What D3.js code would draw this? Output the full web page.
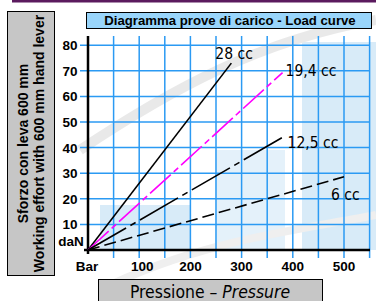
<!DOCTYPE html>
<html>
<head>
<meta charset="utf-8">
<script src="https://cdn.jsdelivr.net/npm/d3@7"></script>
<style>
  body { margin: 0; background: #fff; }
  svg { display: block; }
</style>
</head>
<body>
<div id="chart"></div>
<script>
// Data
const seriesNames = ["28 cc", "19,4 cc", "12,5 cc", "6 cc"];
const endPressure = [280, 380, 380, 500];   // bar
const endEffort = [73, 69.3, 44, 28.6];      // daN
const xTicks = [100, 200, 300, 400, 500];
const yTicks = [10, 20, 30, 40, 50, 60, 70, 80];

const lineStyles = [
    { color: "#000", dash: null },
    { color: "#ff00ff", dash: "28,4,6,4" },
    { color: "#000", dash: "44,5,6,5" },
    { color: "#000", dash: "12,5" }
];

const svg = d3.select("#chart").append("svg").attr("width", 376).attr("height", 301);

const x = d3.scaleLinear().domain([0, 550]).range([88, 369.6]);
const y = d3.scaleLinear().domain([0, 80]).range([250, 45.2]);

// top rule
svg.append("rect").attr("x", 12).attr("y", 0).attr("width", 364).attr("height", 2.5).attr("fill", "#5b1a5e");

// faint watermark behind the grid
const wm = svg.append("g").attr("opacity", 0.55);
wm.append("rect").attr("x", 302).attr("y", 42).attr("width", 74).attr("height", 208).attr("fill", "#b9dcf3");
wm.append("rect").attr("x", 100).attr("y", 205).attr("width", 90).attr("height", 45).attr("fill", "#b9dcf3");
wm.append("rect").attr("x", 215).attr("y", 150).attr("width", 70).attr("height", 100).attr("fill", "#cfe7f7");
wm.append("path")
    .attr("d", "M80,150 C170,90 260,40 376,20")
    .attr("fill", "none").attr("stroke", "#d8d8d8").attr("stroke-width", 10);
wm.append("path")
    .attr("d", "M100,290 C200,240 300,230 376,215")
    .attr("fill", "none").attr("stroke", "#e2e2e2").attr("stroke-width", 8);

// grid
const gridX = d3.range(50, 551, 50);
const gridY = yTicks;
svg.append("g").selectAll("line").data(gridX).join("line")
    .attr("x1", d => x(d)).attr("x2", d => x(d))
    .attr("y1", 36).attr("y2", 258)
    .attr("stroke", "#2b9af3").attr("stroke-width", 1.5);
svg.append("g").selectAll("line").data(gridY).join("line")
    .attr("x1", 80).attr("x2", 370)
    .attr("y1", d => y(d)).attr("y2", d => y(d))
    .attr("stroke", "#2b9af3").attr("stroke-width", 1.5);

// axes
svg.append("line").attr("x1", x(0)).attr("x2", x(0)).attr("y1", 36).attr("y2", 254)
    .attr("stroke", "#000").attr("stroke-width", 2.5);
svg.append("line").attr("x1", 84).attr("x2", 370).attr("y1", y(0)).attr("y2", y(0))
    .attr("stroke", "#000").attr("stroke-width", 2.5);

// tick labels
const bold = "Liberation Sans, Arial, sans-serif";
const tickSize = 13.5;
svg.append("g").selectAll("text").data(yTicks).join("text")
    .attr("x", 77.5).attr("y", d => y(d) + 5)
    .attr("text-anchor", "end")
    .attr("font-family", bold).attr("font-weight", "bold").attr("font-size", tickSize)
    .text(d => d);
svg.append("g").selectAll("text").data(xTicks).join("text")
    .attr("x", d => x(d) + (d === 100 ? 3 : 0)).attr("y", 271)
    .attr("text-anchor", "middle")
    .attr("font-family", bold).attr("font-weight", "bold").attr("font-size", tickSize)
    .text(d => d);
svg.append("text").attr("x", 71).attr("y", 246).attr("text-anchor", "middle")
    .attr("font-family", bold).attr("font-weight", "bold").attr("font-size", tickSize).text("daN");
svg.append("text").attr("x", 87).attr("y", 271).attr("text-anchor", "middle")
    .attr("font-family", bold).attr("font-weight", "bold").attr("font-size", tickSize).text("Bar");

// load curves
const lines = seriesNames.map((name, i) => ({
    name: name,
    pts: [[0, 0], [endPressure[i], endEffort[i]]],
    style: lineStyles[i]
}));
svg.append("g").selectAll("line").data(lines).join("line")
    .attr("x1", d => x(d.pts[0][0])).attr("y1", d => y(d.pts[0][1]))
    .attr("x2", d => x(d.pts[1][0])).attr("y2", d => y(d.pts[1][1]))
    .attr("stroke", d => d.style.color)
    .attr("stroke-width", 1.6)
    .attr("stroke-dasharray", d => d.style.dash);

// curve labels
const labelOffsets = [[-16, -4], [3, 3], [5, 11], [-13, 23]];
const cond = "DejaVu Sans Condensed, DejaVu Sans, sans-serif";
svg.append("g").selectAll("text").data(lines).join("text")
    .attr("x", (d, i) => x(d.pts[1][0]) + labelOffsets[i][0])
    .attr("y", (d, i) => y(d.pts[1][1]) + labelOffsets[i][1])
    .attr("font-family", cond).attr("font-size", 15.5)
    .attr("fill", "#000")
    .text(d => d.name);

// title box
svg.append("rect").attr("x", 86.5).attr("y", 12.5).attr("width", 285).attr("height", 16)
    .attr("fill", "#99d5fb").attr("stroke", "#000").attr("stroke-width", 1);
svg.append("text").attr("x", 230).attr("y", 25).attr("text-anchor", "middle")
    .attr("font-family", bold).attr("font-weight", "bold").attr("font-size", 13.2)
    .text("Diagramma prove di carico - Load curve");

// y label box
svg.append("rect").attr("x", 7.5).attr("y", 11.5).attr("width", 47).attr("height", 264)
    .attr("fill", "#c6c6c6").attr("stroke", "#000").attr("stroke-width", 1);
const yl = svg.append("g").attr("transform", "translate(31,143.5) rotate(-90)");
yl.append("text").attr("x", 0).attr("y", -3).attr("text-anchor", "middle")
    .attr("font-family", bold).attr("font-weight", "bold").attr("font-size", 14)
    .text("Sforzo con leva 600 mm");
yl.append("text").attr("x", 0).attr("y", 12.5).attr("text-anchor", "middle")
    .attr("font-family", bold).attr("font-weight", "bold").attr("font-size", 14)
    .text("Working effort with 600 mm hand lever");

// x label box
svg.append("rect").attr("x", 98.5).attr("y", 279.5).attr("width", 224).attr("height", 24)
    .attr("fill", "#c6c6c6").attr("stroke", "#000").attr("stroke-width", 1);
const xl = svg.append("text").attr("x", 210).attr("y", 298).attr("text-anchor", "middle")
    .attr("font-family", cond).attr("font-size", 17.4);
xl.append("tspan").text("Pressione – ");
xl.append("tspan").attr("font-style", "italic").text("Pressure");
</script>
</body>
</html>
